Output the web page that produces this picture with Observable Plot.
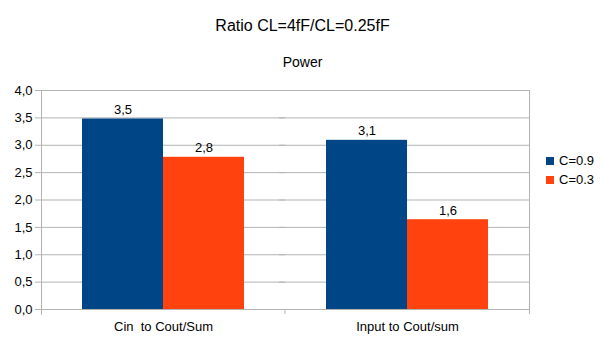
<!DOCTYPE html>
<html><head><meta charset="utf-8">
<script src="https://cdn.jsdelivr.net/npm/d3@7"></script>
<script src="https://cdn.jsdelivr.net/npm/@observablehq/plot@0.6"></script>
<style>
body{margin:0;background:#fff;font-family:"Liberation Sans",Arial,sans-serif;color:#000;}
#wrap{position:relative;width:605px;height:340px;overflow:hidden;}
#title{position:absolute;left:0;width:605px;top:16px;text-align:center;font-size:16px;line-height:20px;}
#subtitle{position:absolute;left:0;width:605px;top:52px;text-align:center;font-size:14px;line-height:20px;}
#chart{position:absolute;left:0;top:75px;}
#legend{position:absolute;left:546px;top:151px;font-size:13px;}
#legend .row{height:19px;line-height:19px;white-space:nowrap;}
#legend .sw{display:inline-block;width:8px;height:8px;margin-right:5px;vertical-align:middle;position:relative;top:-1px;}
svg text{white-space:pre;}
</style></head>
<body>
<div id="wrap">
  <div id="title"></div>
  <div id="subtitle"></div>
  <div id="chart"></div>
  <div id="legend"></div>
</div>
<script>
const titleText = "Ratio CL=4fF/CL=0.25fF";
const subtitleText = "Power";
const categories = ["Cin  to Cout/Sum", "Input to Cout/sum"];
const series = ["C=0.9", "C=0.3"];
const valuesC09 = [3.48, 3.09];
const valuesC03 = [2.78, 1.64];
const yTicks = [0, 0.5, 1, 1.5, 2, 2.5, 3, 3.5, 4];
const colors = ["#004586", "#ff420e"];
const gridColor = "#b3b3b3";

document.getElementById("title").textContent = titleText;
document.getElementById("subtitle").textContent = subtitleText;

const rows = [];
categories.forEach((c, i) => {
  rows.push({category: c, series: series[0], value: valuesC09[i]});
  rows.push({category: c, series: series[1], value: valuesC03[i]});
});
const fmt = d => d.toFixed(1).replace(".", ",");

const chart = Plot.plot({
  width: 605,
  height: 265,
  marginTop: 15,
  marginBottom: 31,
  marginLeft: 41,
  marginRight: 76,
  style: {fontFamily: "Liberation Sans, Arial, sans-serif", fontSize: "13px", color: "#000", background: "white"},
  fx: {domain: categories, padding: 0},
  x: {domain: series, paddingInner: 0, paddingOuter: 0.5, axis: null},
  y: {domain: [0, 4]},
  color: {domain: series, range: colors},
  marks: [
    Plot.gridY(yTicks, {stroke: gridColor, strokeOpacity: 1, insetLeft: -6}),
    Plot.frame({anchor: "left", facetAnchor: "left", stroke: gridColor, insetBottom: -5}),
    Plot.frame({anchor: "right", facetAnchor: "right", stroke: gridColor, insetBottom: -4}),
    Plot.frame({anchor: "left", facetAnchor: "right", stroke: gridColor,
      render: (index, scales, values, dims) => {
        const g = d3.create("svg:g");
        const y0 = scales.y(0);
        g.append("line")
          .attr("x1", dims.marginLeft).attr("x2", dims.marginLeft)
          .attr("y1", y0).attr("y2", y0 + 5)
          .attr("stroke", gridColor);
        return g.node();
      }}),
    Plot.barY(rows, {fx: "category", x: "series", y: "value", fill: "series"}),
    Plot.text(rows, {fx: "category", x: "series", y: "value", text: d => fmt(d.value), lineAnchor: "bottom", dy: -5, fill: "#000"}),
    Plot.axisY({ticks: yTicks, tickFormat: fmt, tickSize: 0, tickPadding: 9, label: null, fill: "#000"}),
    Plot.axisFx({anchor: "bottom", tickSize: 0, tickPadding: 12, label: null, fill: "#000"})
  ]
});
document.getElementById("chart").appendChild(chart);

const legend = d3.select("#legend");
series.forEach((s, i) => {
  const r = legend.append("div").attr("class", "row");
  r.append("span").attr("class", "sw").style("background", colors[i]);
  r.append("span").text(s);
});
</script>
</body></html>
